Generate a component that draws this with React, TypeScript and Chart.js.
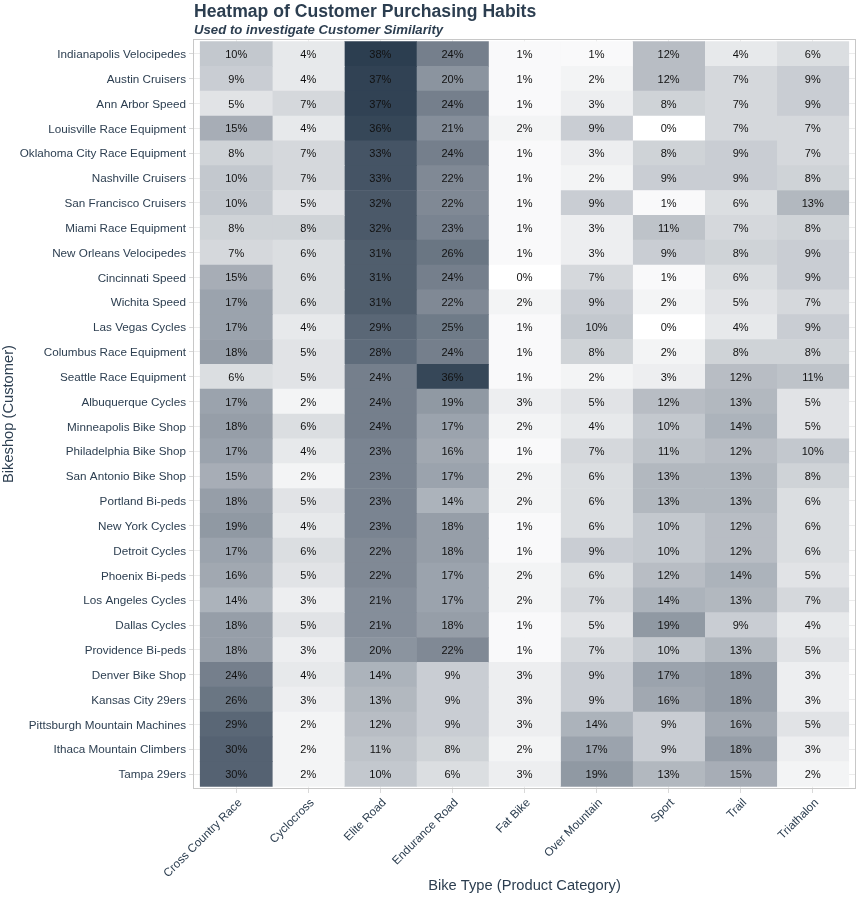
import React, { useEffect, useRef } from "react";
import { Chart, registerables } from "chart.js";

Chart.register(...registerables);

const customers = [
  "Indianapolis Velocipedes",
  "Austin Cruisers",
  "Ann Arbor Speed",
  "Louisville Race Equipment",
  "Oklahoma City Race Equipment",
  "Nashville Cruisers",
  "San Francisco Cruisers",
  "Miami Race Equipment",
  "New Orleans Velocipedes",
  "Cincinnati Speed",
  "Wichita Speed",
  "Las Vegas Cycles",
  "Columbus Race Equipment",
  "Seattle Race Equipment",
  "Albuquerque Cycles",
  "Minneapolis Bike Shop",
  "Philadelphia Bike Shop",
  "San Antonio Bike Shop",
  "Portland Bi-peds",
  "New York Cycles",
  "Detroit Cycles",
  "Phoenix Bi-peds",
  "Los Angeles Cycles",
  "Dallas Cycles",
  "Providence Bi-peds",
  "Denver Bike Shop",
  "Kansas City 29ers",
  "Pittsburgh Mountain Machines",
  "Ithaca Mountain Climbers",
  "Tampa 29ers",
];

const bikeTypes = [
  "Cross Country Race",
  "Cyclocross",
  "Elite Road",
  "Endurance Road",
  "Fat Bike",
  "Over Mountain",
  "Sport",
  "Trail",
  "Triathalon",
];

// percent of each customer's purchases, one array per bike type (rows follow `customers`)
const crossCountryRace = [10, 9, 5, 15, 8, 10, 10, 8, 7, 15, 17, 17, 18, 6, 17, 18, 17, 15, 18, 19, 17, 16, 14, 18, 18, 24, 26, 29, 30, 30];
const cyclocross = [4, 4, 7, 4, 7, 7, 5, 8, 6, 6, 6, 4, 5, 5, 2, 6, 4, 2, 5, 4, 6, 5, 3, 5, 3, 4, 3, 2, 2, 2];
const eliteRoad = [38, 37, 37, 36, 33, 33, 32, 32, 31, 31, 31, 29, 28, 24, 24, 24, 23, 23, 23, 23, 22, 22, 21, 21, 20, 14, 13, 12, 11, 10];
const enduranceRoad = [24, 20, 24, 21, 24, 22, 22, 23, 26, 24, 22, 25, 24, 36, 19, 17, 16, 17, 14, 18, 18, 17, 17, 18, 22, 9, 9, 9, 8, 6];
const fatBike = [1, 1, 1, 2, 1, 1, 1, 1, 1, 0, 2, 1, 1, 1, 3, 2, 1, 2, 2, 1, 1, 2, 2, 1, 1, 3, 3, 3, 2, 3];
const overMountain = [1, 2, 3, 9, 3, 2, 9, 3, 3, 7, 9, 10, 8, 2, 5, 4, 7, 6, 6, 6, 9, 6, 7, 5, 7, 9, 9, 14, 17, 19];
const sport = [12, 12, 8, 0, 8, 9, 1, 11, 9, 1, 2, 0, 2, 3, 12, 10, 11, 13, 13, 10, 10, 12, 14, 19, 10, 17, 16, 9, 9, 13];
const trail = [4, 7, 7, 7, 9, 9, 6, 7, 8, 6, 5, 4, 8, 12, 13, 14, 12, 13, 13, 12, 12, 14, 13, 9, 13, 18, 18, 16, 18, 15];
const triathalon = [6, 9, 9, 7, 7, 8, 13, 8, 9, 9, 7, 9, 8, 11, 5, 5, 10, 8, 6, 6, 6, 5, 7, 4, 5, 3, 3, 5, 3, 2];

const seriesValues = [
  crossCountryRace,
  cyclocross,
  eliteRoad,
  enduranceRoad,
  fatBike,
  overMountain,
  sport,
  trail,
  triathalon,
];

const TITLE = "Heatmap of Customer Purchasing Habits";
const SUBTITLE = "Used to investigate Customer Similarity";
const X_TITLE = "Bike Type (Product Category)";
const Y_TITLE = "Bikeshop (Customer)";

const FONT = '"Liberation Sans", Arial, Helvetica, sans-serif';
const TEXT_COLOR = "#2C3E50";
const LOW = "#FFFFFF";
const HIGH = "#2C3E50";

// ---- colour: linear interpolation in CIELAB (like ggplot's gradient) ----
function hexToRgb(h: string) {
  const n = parseInt(h.slice(1), 16);
  return [(n >> 16) & 255, (n >> 8) & 255, n & 255];
}
function toLab(rgb: number[]) {
  const lin = rgb.map((c) => {
    const v = c / 255;
    return v <= 0.04045 ? v / 12.92 : Math.pow((v + 0.055) / 1.055, 2.4);
  });
  const X = (0.4124 * lin[0] + 0.3576 * lin[1] + 0.1805 * lin[2]) / 0.95047;
  const Y = 0.2126 * lin[0] + 0.7152 * lin[1] + 0.0722 * lin[2];
  const Z = (0.0193 * lin[0] + 0.1192 * lin[1] + 0.9505 * lin[2]) / 1.08883;
  const f = (t: number) => (t > 0.008856 ? Math.cbrt(t) : 7.787 * t + 16 / 116);
  const fx = f(X), fy = f(Y), fz = f(Z);
  return [116 * fy - 16, 500 * (fx - fy), 200 * (fy - fz)];
}
function labToHex(lab: number[]) {
  const fy = (lab[0] + 16) / 116;
  const fx = fy + lab[1] / 500;
  const fz = fy - lab[2] / 200;
  const inv = (t: number) => (t * t * t > 0.008856 ? t * t * t : (t - 16 / 116) / 7.787);
  const X = inv(fx) * 0.95047, Y = inv(fy), Z = inv(fz) * 1.08883;
  const lin = [
    3.2406 * X - 1.5372 * Y - 0.4986 * Z,
    -0.9689 * X + 1.8758 * Y + 0.0415 * Z,
    0.0557 * X - 0.204 * Y + 1.057 * Z,
  ];
  const out = lin.map((c) => {
    const v = c <= 0.0031308 ? 12.92 * c : 1.055 * Math.pow(c, 1 / 2.4) - 0.055;
    return Math.max(0, Math.min(255, Math.round(v * 255)));
  });
  return "#" + out.map((c) => c.toString(16).padStart(2, "0")).join("");
}
const labLow = toLab(hexToRgb(LOW));
const labHigh = toLab(hexToRgb(HIGH));
const allValues = seriesValues.flat();
const vMin = Math.min(...allValues);
const vMax = Math.max(...allValues);
function fillFor(v: number) {
  const t = (v - vMin) / (vMax - vMin);
  return labToHex(labLow.map((c, i) => c + (labHigh[i] - c) * t));
}

const cellLabels = {
  id: "cellLabels",
  afterDatasetsDraw(chart: any) {
    const ctx = chart.ctx;
    ctx.save();
    ctx.font = `11px ${FONT}`;
    ctx.fillStyle = "#111111";
    ctx.textAlign = "center";
    ctx.textBaseline = "middle";
    chart.data.datasets.forEach((ds: any, di: number) => {
      const meta = chart.getDatasetMeta(di);
      meta.data.forEach((el: any, i: number) => {
        const p = el.getCenterPoint();
        ctx.fillText(`${ds.pct[i]}%`, p.x, p.y + 1);
      });
    });
    ctx.restore();
  },
};

const panelAndTitles = {
  id: "panelAndTitles",
  afterDraw(chart: any) {
    const ctx = chart.ctx;
    const a = chart.chartArea;
    ctx.save();
    ctx.strokeStyle = "#c8c8c8";
    ctx.lineWidth = 1;
    ctx.strokeRect(a.left + 0.5, a.top + 0.5, a.right - a.left - 1, a.bottom - a.top - 1);
    ctx.fillStyle = TEXT_COLOR;
    ctx.textAlign = "left";
    ctx.textBaseline = "alphabetic";
    ctx.font = `bold 17.6px ${FONT}`;
    ctx.fillText(TITLE, a.left + 1, 16.5);
    ctx.font = `italic bold 13.2px ${FONT}`;
    ctx.fillText(SUBTITLE, a.left + 1, 34);
    ctx.restore();
  },
};

export default function App() {
  const ref = useRef<HTMLCanvasElement | null>(null);

  useEffect(() => {
    if (!ref.current) return;
    const datasets = bikeTypes.map((bt, j) => ({
      label: bt,
      pct: seriesValues[j],
      data: customers.map((_, i) => ({ y: i, x: [j - 0.5, j + 0.5] })),
      backgroundColor: seriesValues[j].map((v) => fillFor(v)),
      borderWidth: 0,
      grouped: false,
      barPercentage: 1,
      categoryPercentage: 1,
    }));

    const chart = new Chart(ref.current, {
      type: "bar",
      data: { datasets: datasets as any },
      plugins: [cellLabels, panelAndTitles],
      options: {
        indexAxis: "y",
        responsive: false,
        animation: false,
        events: [],
        layout: { padding: { top: 39, right: 6, left: 0, bottom: 0 } },
        plugins: {
          legend: { display: false },
          tooltip: { enabled: false },
        },
        scales: {
          x: {
            type: "linear",
            position: "bottom",
            min: -0.6,
            max: 8.6,
            afterBuildTicks: (s: any) => {
              s.ticks = bikeTypes.map((_, i) => ({ value: i }));
            },
            afterFit: (s: any) => {
              s.height = 109;
            },
            ticks: {
              autoSkip: false,
              minRotation: 45,
              maxRotation: 45,
              padding: 3,
              labelOffset: 4,
              color: TEXT_COLOR,
              font: { family: FONT, size: 11.7 },
              callback: (v: any) => bikeTypes[v],
            },
            grid: {
              color: "#ececec",
              tickColor: "#d9d9d9",
              tickLength: 4,
              offset: false,
            },
            border: { display: false },
            title: {
              display: true,
              text: X_TITLE,
              color: TEXT_COLOR,
              font: { family: FONT, size: 14.7 },
              padding: { top: 0, bottom: 3 },
            },
          },
          y: {
            type: "linear",
            position: "left",
            reverse: true,
            offset: false,
            min: -0.6,
            max: customers.length - 0.4,
            afterBuildTicks: (s: any) => {
              s.ticks = customers.map((_, i) => ({ value: i }));
            },
            afterFit: (s: any) => {
              s.width = 193;
            },
            ticks: {
              autoSkip: false,
              padding: 3,
              labelOffset: 1,
              color: TEXT_COLOR,
              font: { family: FONT, size: 11.7 },
              callback: (v: any) => customers[v],
            },
            grid: {
              color: "#ececec",
              tickColor: "#d9d9d9",
              tickLength: 4,
              offset: false,
            },
            border: { display: false },
            title: {
              display: true,
              text: Y_TITLE,
              color: TEXT_COLOR,
              font: { family: FONT, size: 14.7 },
              padding: { top: 0, bottom: 0 },
            },
          },
        },
      } as any,
    });
    return () => chart.destroy();
  }, []);

  return (
    <div style={{ position: "absolute", left: 0, top: 0, width: 862, height: 898, background: "#fff" }}>
      <canvas ref={ref} width={862} height={898} style={{ display: "block", width: 862, height: 898 }} />
    </div>
  );
}
